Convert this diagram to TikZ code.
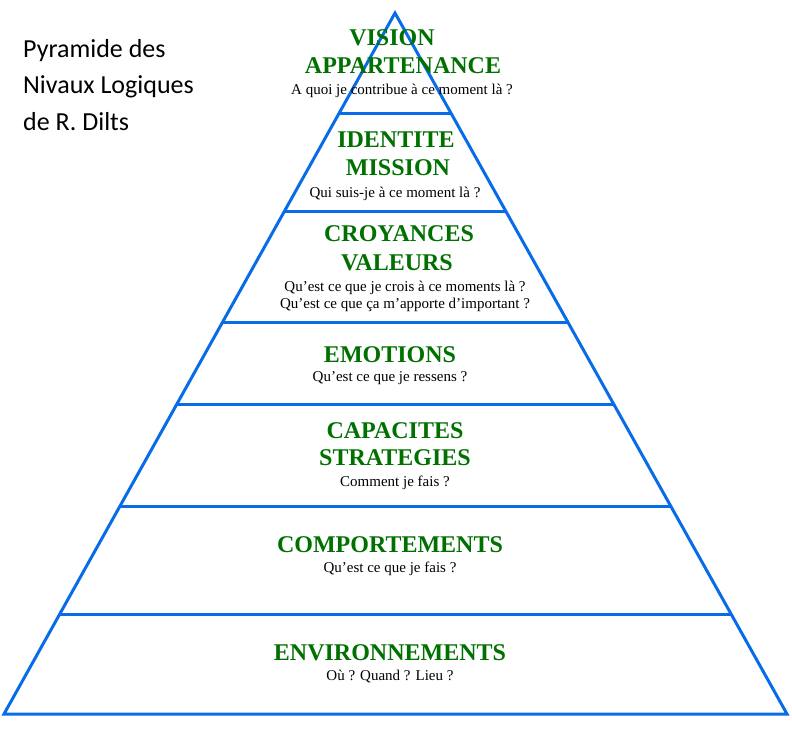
\documentclass[tikz,border=0pt]{standalone}
\usepackage{fontspec}
\setmainfont{Liberation Serif}
\newfontfamily\calib{Carlito}
\usetikzlibrary{calc}
\definecolor{pyrblue}{RGB}{8,108,232}
\definecolor{lvlgreen}{RGB}{0,112,0}
\tikzset{
  edge/.style={draw=pyrblue, line width=3pt},
  lvltitle/.style={text=lvlgreen, font=\fontsize{24}{28}\selectfont\bfseries, inner sep=0pt, anchor=base},
  lvlsub/.style={text=black, font=\fontsize{15}{17}\selectfont, inner sep=0pt, anchor=base},
  captext/.style={text=black, font=\calib\fontsize{26}{36}\selectfont, inner sep=0pt, anchor=base west},
}
\begin{document}
\begin{tikzpicture}[x=1pt,y=-1pt]
\useasboundingbox (0,0) rectangle (792,748);
% pyramid outline
\coordinate (A) at (395,13);
\coordinate (L) at (4,714);
\coordinate (R) at (787,714);
\draw[edge, line join=miter] (L) -- (A) -- (R) -- cycle;
% level separators
\foreach \t [count=\i] in {0.14265,0.28245,0.44080,0.55777,0.70328,0.85735}{
  \coordinate (l\i) at ($(A)!\t!(L)$);
  \coordinate (r\i) at ($(A)!\t!(R)$);
  \draw[edge] (l\i) -- (r\i);
}
% caption
\node[captext] (cap1) at (23,57) {Pyramide des};
\node[captext] (cap2) at (23,93) {Nivaux Logiques};
\node[captext] (cap3) at (23,130) {de R. Dilts};
% level 1
\node[lvltitle] (t1a) at (392,45) {VISION};
\node[lvltitle] (t1b) at (403,73) {APPARTENANCE};
\node[lvlsub] (s1) at (402,94) {A quoi je contribue à ce moment là ?};
% level 2
\node[lvltitle] (t2a) at (396,147) {IDENTITE};
\node[lvltitle] (t2b) at (398,175) {MISSION};
\node[lvlsub] (s2) at (395,197) {Qui suis-je à ce moment là ?};
% level 3
\node[lvltitle] (t3a) at (399,241) {CROYANCES};
\node[lvltitle] (t3b) at (397,270) {VALEURS};
\node[lvlsub] (s3a) at (405,291) {Qu’est ce que je crois à ce moments là ?};
\node[lvlsub] (s3b) at (405,308) {Qu’est ce que ça m’apporte d’important ?};
% level 4
\node[lvltitle] (t4) at (390,362) {EMOTIONS};
\node[lvlsub] (s4) at (390,381) {Qu’est ce que je ressens ?};
% level 5
\node[lvltitle] (t5a) at (395,438) {CAPACITES};
\node[lvltitle] (t5b) at (395,465) {STRATEGIES};
\node[lvlsub] (s5) at (395,486) {Comment je fais ?};
% level 6
\node[lvltitle] (t6) at (390,552) {COMPORTEMENTS};
\node[lvlsub] (s6) at (390,572) {Qu’est ce que je fais ?};
% level 7
\node[lvltitle] (t7) at (390,660) {ENVIRONNEMENTS};
\node[lvlsub] (s7) at (390,680) {Où ? Quand ? Lieu ?};
\end{tikzpicture}
\end{document}
